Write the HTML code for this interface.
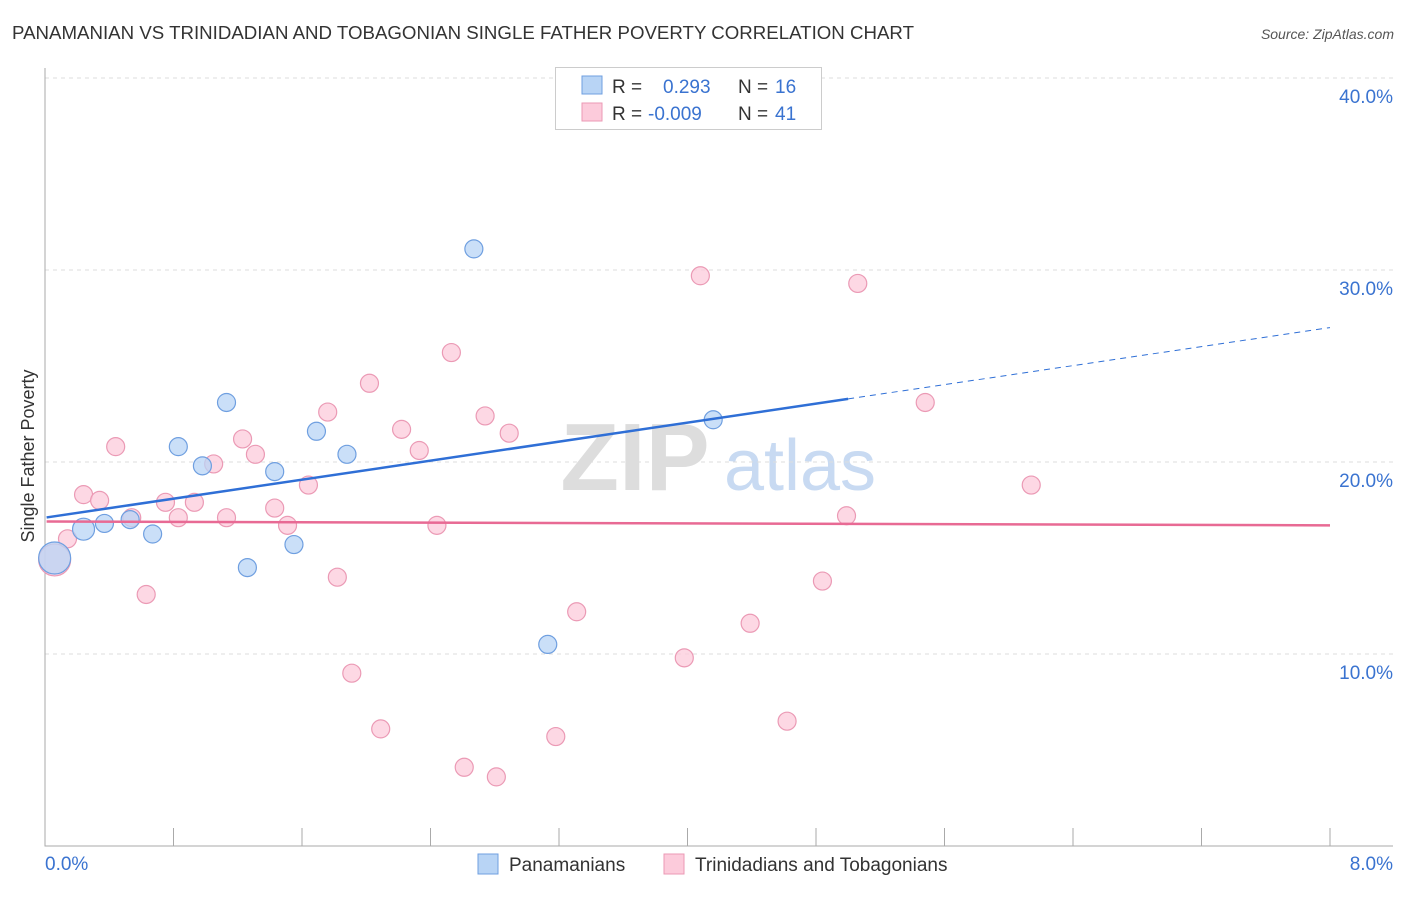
<!DOCTYPE html>
<html><head><meta charset="utf-8"><style>
body{margin:0;background:#fff;font-family:"Liberation Sans",sans-serif}
svg text{font-family:"Liberation Sans",sans-serif}
</style></head><body>
<svg width="1406" height="892" viewBox="0 0 1406 892">
<text x="12" y="39" font-size="18" fill="#333" textLength="902" lengthAdjust="spacingAndGlyphs">PANAMANIAN VS TRINIDADIAN AND TOBAGONIAN SINGLE FATHER POVERTY CORRELATION CHART</text>
<text x="1394" y="39" font-size="14" fill="#555" font-style="italic" text-anchor="end">Source: ZipAtlas.com</text>
<g>
<text x="635" y="490" font-size="96" fill="#ddd" text-anchor="middle" font-family="Liberation Serif" font-weight="bold">ZIP</text>
<text x="800" y="490" font-size="72" fill="#c8daf2" text-anchor="middle">atlas</text>
</g>
<g id="grid"></g>
<g id="axes"></g>
<g id="marks"></g>
<text x="34" y="456" font-size="18" fill="#333" text-anchor="middle" transform="rotate(-90 34 456)">Single Father Poverty</text>
<g>
<rect x="555.5" y="67.5" width="266" height="62" fill="#fff" stroke="#ccc"/>
<rect x="582" y="76" width="20" height="18" fill="#b8d4f5" stroke="#6f9fe0"/>
<rect x="582" y="103" width="20" height="18" fill="#fccbdb" stroke="#eb9ab5"/>
<text x="612" y="93" font-size="19" fill="#333">R = </text><text x="663" y="93" font-size="19" fill="#3a73d0">0.293</text>
<text x="738" y="93" font-size="19" fill="#333">N = </text><text x="775" y="93" font-size="19" fill="#3a73d0">16</text>
<text x="612" y="120" font-size="19" fill="#333">R = </text><text x="648" y="120" font-size="19" fill="#3a73d0">-0.009</text>
<text x="738" y="120" font-size="19" fill="#333">N = </text><text x="775" y="120" font-size="19" fill="#3a73d0">41</text>
</g>
<g>
<rect x="478" y="854" width="20" height="20" fill="#b8d4f5" stroke="#6f9fe0"/>
<text x="509" y="871" font-size="19" fill="#333">Panamanians</text>
<rect x="664" y="854" width="20" height="20" fill="#fccbdb" stroke="#eb9ab5"/>
<text x="695" y="871" font-size="19" fill="#333">Trinidadians and Tobagonians</text>
</g>
</svg>
<script>
const blueX=[0.06,0.24,0.37,0.53,0.67,0.83,0.98,1.13,1.26,1.43,1.55,1.69,1.88,2.67,3.13,4.16];
const blueY=[15.0,16.5,16.8,17.0,16.25,20.8,19.8,23.1,14.5,19.5,15.7,21.6,20.4,31.1,10.5,22.2];
const blueR=[16,11,9,9,9,9,9,9,9,9,9,9,9,9,9,9];
const pinkX=[0.06,0.14,0.24,0.34,0.44,0.54,0.63,0.75,0.83,0.93,1.05,1.13,1.23,1.31,1.43,1.51,1.64,1.76,1.82,1.91,2.02,2.09,2.22,2.33,2.44,2.53,2.61,2.74,2.81,2.89,3.18,3.31,3.98,4.08,4.39,4.62,4.84,4.99,5.06,5.48,6.14];
const pinkY=[14.9,16.0,18.3,18.0,20.8,17.1,13.1,17.9,17.1,17.9,19.9,17.1,21.2,20.4,17.6,16.7,18.8,22.6,14.0,9.0,24.1,6.1,21.7,20.6,16.7,25.7,4.1,22.4,3.6,21.5,5.7,12.2,9.8,29.7,11.6,6.5,13.8,17.2,29.3,23.1,18.8];
const blueTrend=[17.1,27.0];
const pinkTrend=[16.9,16.7];
const yTicks=[10,20,30,40];
const yTickLabels=["10.0%","20.0%","30.0%","40.0%"];
const xTickCount=10;
const NS="http://www.w3.org/2000/svg";
const xs=v=>45+v/8*1285, ys=v=>846-v*19.2;
function mk(t,a,p){const e=document.createElementNS(NS,t);for(const k in a)e.setAttribute(k,a[k]);p.appendChild(e);return e;}
const grid=document.getElementById('grid'),axes=document.getElementById('axes'),marks=document.getElementById('marks');
yTicks.forEach((t,i)=>{
 const l=mk('line',{x1:45,x2:1393,y1:ys(t),y2:ys(t),stroke:'#ddd','stroke-dasharray':'4 4'},grid);
 
 
 const tx=mk('text',{x:1393,y:ys(t)+25,'font-size':19,fill:'#3a73d0','text-anchor':'end'},axes);
 tx.textContent=yTickLabels[i];
 
 
});
const ax=mk('path',{d:'M45 68V846H1393',fill:'none',stroke:'#aaa'},axes);


for(let i=0;i<=xTickCount;i++){
 const x=xs(i*0.8);
 const tk=mk('line',{x1:x,x2:x,y1:828,y2:846,stroke:'#aaa'},axes);
 
 
}
[["0.0%",45,'start'],["8.0%",1393,'end']].forEach(d=>{
 const t=mk('text',{x:d[1],y:870,'font-size':19,fill:'#3a73d0','text-anchor':d[2]},axes);
 t.textContent=d[0];
 
 
});
pinkX.forEach((x,i)=>{
 const c=mk('circle',{cx:xs(x),cy:ys(pinkY[i]),r:i==0?16:9,fill:'#fccbdb','fill-opacity':0.75,stroke:'#eb9ab5','stroke-width':1.2},marks);
 
 
});
blueX.forEach((x,i)=>{
 const c=mk('circle',{cx:xs(x),cy:ys(blueY[i]),r:blueR[i],fill:'#b8d4f5','fill-opacity':0.75,stroke:'#6f9fe0','stroke-width':1.2},marks);
 
 
});
const bAt=x=>blueTrend[0]+(blueTrend[1]-blueTrend[0])*x/8;
const b1=mk('line',{x1:xs(0.01),y1:ys(bAt(0.01)),x2:xs(5),y2:ys(bAt(5)),stroke:'#2f6fd6','stroke-width':2.5},marks);


const b2=mk('line',{x1:xs(5),y1:ys(bAt(5)),x2:xs(8),y2:ys(bAt(8)),stroke:'#2f6fd6','stroke-width':1,'stroke-dasharray':'6 5'},marks);


const p1=mk('line',{x1:xs(0.01),y1:ys(pinkTrend[0]),x2:xs(8),y2:ys(pinkTrend[1]),stroke:'#e86a94','stroke-width':2.5},marks);


</script>
</body></html>
